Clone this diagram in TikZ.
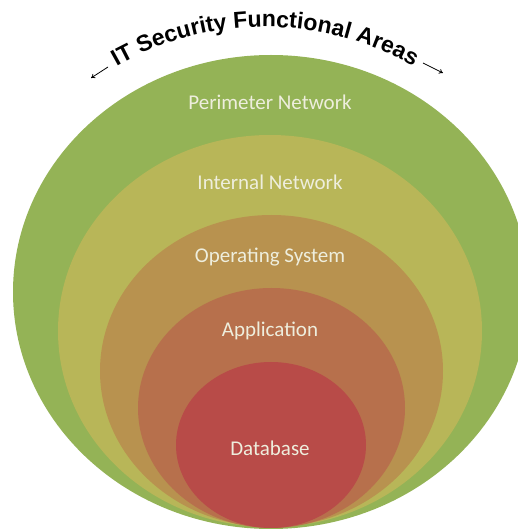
\documentclass[tikz,border=0pt]{standalone}
\usepackage{fontspec}
\setmainfont{Carlito}
\newfontfamily\titlefont{Liberation Sans}
\usetikzlibrary{decorations.text,arrows.meta}
\definecolor{cPer}{HTML}{94B356}
\definecolor{cInt}{HTML}{B8B658}
\definecolor{cOps}{HTML}{B8924F}
\definecolor{cApp}{HTML}{B7704C}
\definecolor{cDb}{HTML}{B84B48}
\definecolor{cTxt}{HTML}{EEEEDD}
\tikzset{
  lab/.style={text=cTxt, font=\fontsize{21}{21}\selectfont, inner sep=0pt},
  ptr/.style={draw=black, line width=0.8pt, -{To[length=4pt,width=5pt]}}
}
\begin{document}
\begin{tikzpicture}[x=1pt,y=1pt]
\useasboundingbox (0,0) rectangle (518,531);
\clip (0,0) rectangle (518,531);
\fill[white] (0,0) rectangle (518,531);
% rings
\fill[cPer] (271,239) ellipse [x radius=258, y radius=237];
\fill[cInt] (270,200) ellipse [x radius=212, y radius=196];
\fill[cOps] (271.5,160) ellipse [x radius=171.5, y radius=156];
\fill[cApp] (271.5,123) ellipse [x radius=133.5, y radius=120];
\fill[cDb] (271,86) ellipse [x radius=95, y radius=83];
% labels
\node[lab] (per) at (270,429) {Perimeter Network};
\node[lab] (int) at (270,349) {Internal Network};
\node[lab] (ops) at (270,274) {Operating System};
\node[lab] (app) at (270,200) {Application};
\node[lab] (db)  at (270,83)  {Database};
% title along an arc
\path[decorate, decoration={text along path, text align=center,
  text={|\titlefont\bfseries\fontsize{23}{23}\selectfont|IT Security Functional Areas}}]
  (265,204) ++(124:300) arc[start angle=124, end angle=56, radius=300];
% arrows
\coordinate (la1) at (108,464);
\coordinate (la2) at (91,453);
\coordinate (ra1) at (423,468);
\coordinate (ra2) at (443,458);
\draw[ptr] (la1) -- (la2);
\draw[ptr] (ra1) -- (ra2);
\end{tikzpicture}
\end{document}
